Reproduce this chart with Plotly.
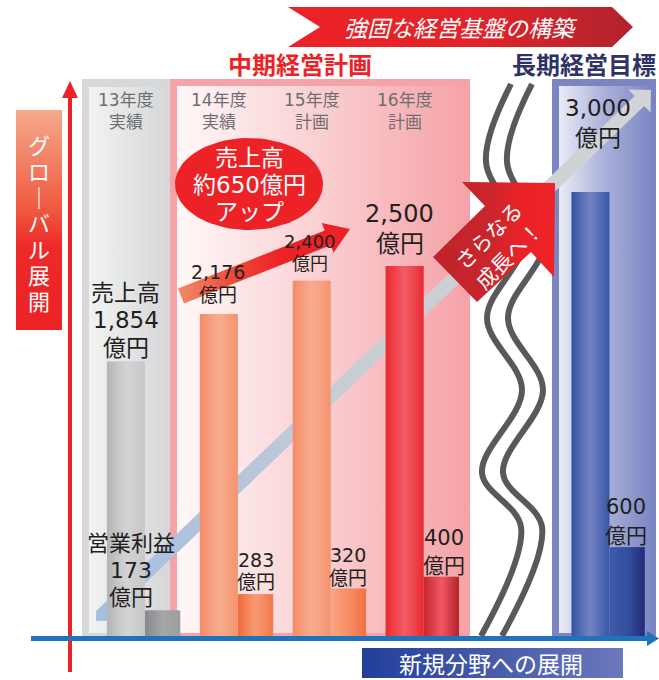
import numpy as np
import plotly.graph_objects as go

# ---------------- data ----------------
years = ["13年度", "14年度", "15年度", "16年度"]
year_status = ["実績", "実績", "計画", "計画"]
groups = ["13年度実績", "14年度実績", "15年度計画", "16年度計画", "長期経営目標"]
sales = [1854, 2176, 2400, 2500, 3000]          # 売上高 (億円)
op_profit = [173, 283, 320, 400, 600]           # 営業利益 (億円)
unit = "億円"
sales_name = "売上高"
profit_name = "営業利益"
mid_plan = "中期経営計画"
long_plan = "長期経営目標"
banner = "強固な経営基盤の構築"
left_label = "グローバル展開"
bottom_label = "新規分野への展開"
badge = ["さらなる", "成長へ！"]

# ---------------- layout constants ----------------
W, H = 659, 680
slot = [0, 1, 2, 3, 5]            # horizontal slot of each group (4 = break)
X0, DX = 145.0, 92.9              # pixel x of slot 0, pixels per slot
BASE, SCALE = 636.0, 0.148        # pixel y of value 0, pixels per 億円
SALES_W, PROFIT_W = 0.41, 0.38
FONT = "Noto Sans CJK JP"
NFONT = "DejaVu Sans, Noto Sans CJK JP"
INK = "#231f20"

sales_stops = [
    ["#b3b4b6", "#d3d4d6", "#c6c7c9"],
    ["#f48b68", "#f8ad8e", "#f59370"],
    ["#f48b68", "#f8ad8e", "#f59370"],
    ["#ec2a31", "#f25d67", "#ea2a31"],
    ["#3453a4", "#7584c2", "#3756a6"],
]
profit_stops = [
    ["#88898c", "#a6a7a9", "#9d9ea0"],
    ["#f26b3c", "#f89b75", "#f27849"],
    ["#f9a783", "#f78e66", "#f2703f"],
    ["#c6262e", "#f05964", "#b3222a"],
    ["#3c5ba9", "#3350a0", "#222c77"],
]
# label styles: (font size, gap above bar top, line spacing, x shift)
sales_lab = [(23, 14, 27.5, 0), (19, 19, 23, -1), (18, 17, 22, -2), (24, 22, 30, -5), (23, 54, 30, 8)]
profit_lab = [(22, 13, 27, -32), (19, 12, 22.6, 0), (19, 11, 23, 0), (21, 11, 28, 3), (21, 11, 29, -1)]


def hex2rgb(h):
    h = h.lstrip("#")
    return np.array([int(h[i:i + 2], 16) for i in (0, 2, 4)], float)


def interp(stops, t):
    n = len(stops) - 1
    k = min(int(t * n), n - 1)
    f = t * n - k
    c = hex2rgb(stops[k]) * (1 - f) + hex2rgb(stops[k + 1]) * f
    return "rgb(%d,%d,%d)" % tuple(np.round(c))


fig = go.Figure()


def poly(pts, color=None, grad=None, orient="horizontal"):
    xs = [float(p[0]) for p in pts] + [float(pts[0][0])]
    ys = [float(p[1]) for p in pts] + [float(pts[0][1])]
    kw = dict(x=xs, y=ys, mode="lines", line=dict(width=0), fill="toself",
              hoverinfo="skip", showlegend=False, xaxis="x", yaxis="y")
    if grad is not None:
        if orient == "horizontal":
            s, e = min(xs), max(xs)
        else:
            s, e = min(ys), max(ys)
        kw["fillgradient"] = dict(type=orient, colorscale=grad, start=s, stop=e)
    else:
        kw["fillcolor"] = color
    fig.add_trace(go.Scatter(**kw))


def rect(x0, y0, x1, y1, **kw):
    poly([(x0, y0), (x1, y0), (x1, y1), (x0, y1)], **kw)


def arrow_pts(p0, p1, hw, hl, hhw, tail=0):
    p0, p1 = np.array(p0, float), np.array(p1, float)
    d = (p1 - p0) / np.linalg.norm(p1 - p0)
    n = np.array([-d[1], d[0]])
    b = p1 - d * hl
    pts = [p0 + n * hw, b + n * hw, b + n * hhw, p1, b - n * hhw, b - n * hw, p0 - n * hw]
    if tail:
        pts.append(p0 - d * tail)
    return pts


# ---------- background decoration (pixel axes) ----------
# panels
rect(82, 79, 170, 636, color="#d7d8da")
rect(89, 87, 168, 633, grad=[[0, "#f1f2f2"], [1, "#d6d7d9"]])
rect(170, 79, 470, 636, color="#f5a3a8")
rect(177, 86, 466, 633, grad=[[0, "#fff8f8"], [0.45, "#fad3d5"], [1, "#f5a3a8"]])
rect(552, 79, 656, 636, color="#7b85c1")
rect(559, 86, 650, 633, grad=[[0, "#e9ebf6"], [0.5, "#aab1da"], [1, "#7e88c4"]])

# long diagonal arrow
poly(arrow_pts((101, 616), (651, 90), 7, 16, 16, tail=7),
     grad=[[0, "#a5bfe2"], [0.25, "#b5c5dc"], [0.45, "#c8cdd3"], [1, "#d2d4d6"]])

# wavy break lines
wave = [(511, 84), (486, 162), (524, 240), (487, 318), (522, 390), (482, 473), (521, 527), (481, 636)]
for off in (0, 21):
    fig.add_trace(go.Scatter(x=[p[0] + off for p in wave], y=[p[1] for p in wave], mode="lines",
                             line=dict(color="#58595b", width=6, shape="spline", smoothing=1.0),
                             hoverinfo="skip", showlegend=False, xaxis="x", yaxis="y"))

# さらなる成長へ badge
poly([(555, 183), (462, 182), (485, 206), (433, 257), (477, 302), (531, 252), (554, 277)],
     grad=[[0, "#bf242b"], [0.45, "#c9252c"], [0.75, "#ec2227"], [1, "#ee2226"]])

# red growth arrow
poly(arrow_pts((181, 296), (350, 229), 8, 24, 16),
     grad=[[0, "#f08a6a"], [0.35, "#ee4434"], [0.6, "#ec2227"], [1, "#ec2227"]])

# ellipse
th = np.linspace(0, 2 * np.pi, 90)
poly(list(zip(249 + 74 * np.cos(th), 184 + 46 * np.sin(th))), color="#ec2227")

# top banner
poly([(288, 7), (612, 7), (633, 27), (612, 47), (288, 47), (320, 27)],
     grad=[[0, "#ed2228"], [0.55, "#e22329"], [1, "#b0232e"]])
# left box
rect(16, 110, 62, 330, grad=[[0, "#f6a98b"], [0.45, "#ef5a40"], [0.62, "#ed2a2a"], [1, "#ec2227"]],
     orient="vertical")
# bottom box
rect(362, 648, 623, 678, grad=[[0, "#213f99"], [1, "#6c78bc"]])

# ---------- bars (data axes) ----------
N = 16


def bar_strips(values, width, offset, stops):
    for j in range(N):
        t = (j + 0.5) / N
        w = width / N * (1.6 if j < N - 1 else 1.0)
        fig.add_trace(go.Bar(
            x=slot, y=values, width=w, offset=offset + j * width / N,
            marker=dict(color=[interp(s, t) for s in stops], line=dict(width=0)),
            xaxis="x2", yaxis="y2", showlegend=False, hoverinfo="skip"))


bar_strips(sales, SALES_W, -SALES_W, sales_stops)
bar_strips(op_profit, PROFIT_W, 0.0, profit_stops)

# ---------- axis arrows (shapes above) ----------
shapes = [
    dict(type="line", x0=70, x1=70, y0=96, y1=672, line=dict(color="#ec2227", width=4)),
    dict(type="path", path="M 62 98 L 70 81 L 78 98 Z", fillcolor="#ec2227", line=dict(width=0)),
    dict(type="line", x0=31, x1=649, y0=638.5, y1=638.5, line=dict(color="#1e73ba", width=5)),
    dict(type="path", path="M 647 631 L 659 638.5 L 647 646 Z", fillcolor="#1e73ba", line=dict(width=0)),
]
for s in shapes:
    s.update(xref="x", yref="y", layer="above")
    fig.add_shape(**s)


# ---------- text ----------
def txt(s, x, y, size, color, family=NFONT, xref="x", yref="y", **kw):
    fig.add_annotation(text=s, x=x, y=y, xref=xref, yref=yref, showarrow=False,
                       font=dict(family=family, size=size, color=color),
                       xanchor="center", yanchor="middle", **kw)


txt("<i>" + banner + "</i>", 461, 27, 23, "white", family=FONT)
txt("<b>" + mid_plan + "</b>", 300, 63, 24, "#ec2227", family=FONT)
txt("<b>" + long_plan + "</b>", 584, 63, 24, "#2e3267", family=FONT)
txt(bottom_label, 491, 663, 23, "white", family=FONT)
for k, ch in enumerate(left_label):
    txt("｜" if ch == "ー" else ch, 39, 146 + 26 * k, 22, "white")

for i, (yr, st) in enumerate(zip(years, year_status)):
    xc = slot[i] - SALES_W / 2
    txt(yr, xc, 100, 17, "#6d6e71", xref="x2", yref="y")
    txt(st, xc, 122, 17, "#6d6e71", xref="x2", yref="y")

# ellipse text
txt(sales_name, 249, 158, 23, "white")
txt("約%d%s" % (int(round(sales[3] - sales[0], -1)), unit), 249, 185, 23, "white")
txt("アップ", 249, 212, 23, "white")

# badge text
txt(badge[0], 488, 235, 21, "white", family=FONT, textangle=-45)
txt(badge[1], 508, 255, 21, "white", family=FONT, textangle=-45)


def value_labels(values, centre, styles, first_name):
    for i, v in enumerate(values):
        size, gap, sp, dx = styles[i]
        lines = ([first_name] if i == 0 else []) + ["{:,}".format(v), unit]
        n = len(lines)
        for k, ln in enumerate(lines):
            fig.add_annotation(text=ln, x=slot[i] + centre, y=v, xref="x2", yref="y2",
                               showarrow=False, xanchor="center", yanchor="middle",
                               yshift=gap + (n - 1 - k) * sp, xshift=dx,
                               font=dict(family=NFONT, size=size, color=INK))


value_labels(sales, -SALES_W / 2, sales_lab, sales_name)
value_labels(op_profit, PROFIT_W / 2, profit_lab, profit_name)

# ---------- axes ----------
ax_off = dict(visible=False, showgrid=False, zeroline=False, fixedrange=True)
fig.update_layout(
    width=W, height=H, margin=dict(l=0, r=0, t=0, b=0),
    paper_bgcolor="white", plot_bgcolor="white", barmode="overlay", showlegend=False,
    xaxis=dict(range=[0, W], domain=[0, 1], **ax_off),
    yaxis=dict(range=[H, 0], domain=[0, 1], **ax_off),
    xaxis2=dict(range=[(0 - X0) / DX, (W - X0) / DX], overlaying="x", **ax_off),
    yaxis2=dict(range=[-(H - BASE) / SCALE, BASE / SCALE], overlaying="y", **ax_off),
)

fig.write_html(
    "out.html",
    config={"displayModeBar": False},
    post_script="document.body.style.margin='0';document.body.style.overflow='hidden';",
)
